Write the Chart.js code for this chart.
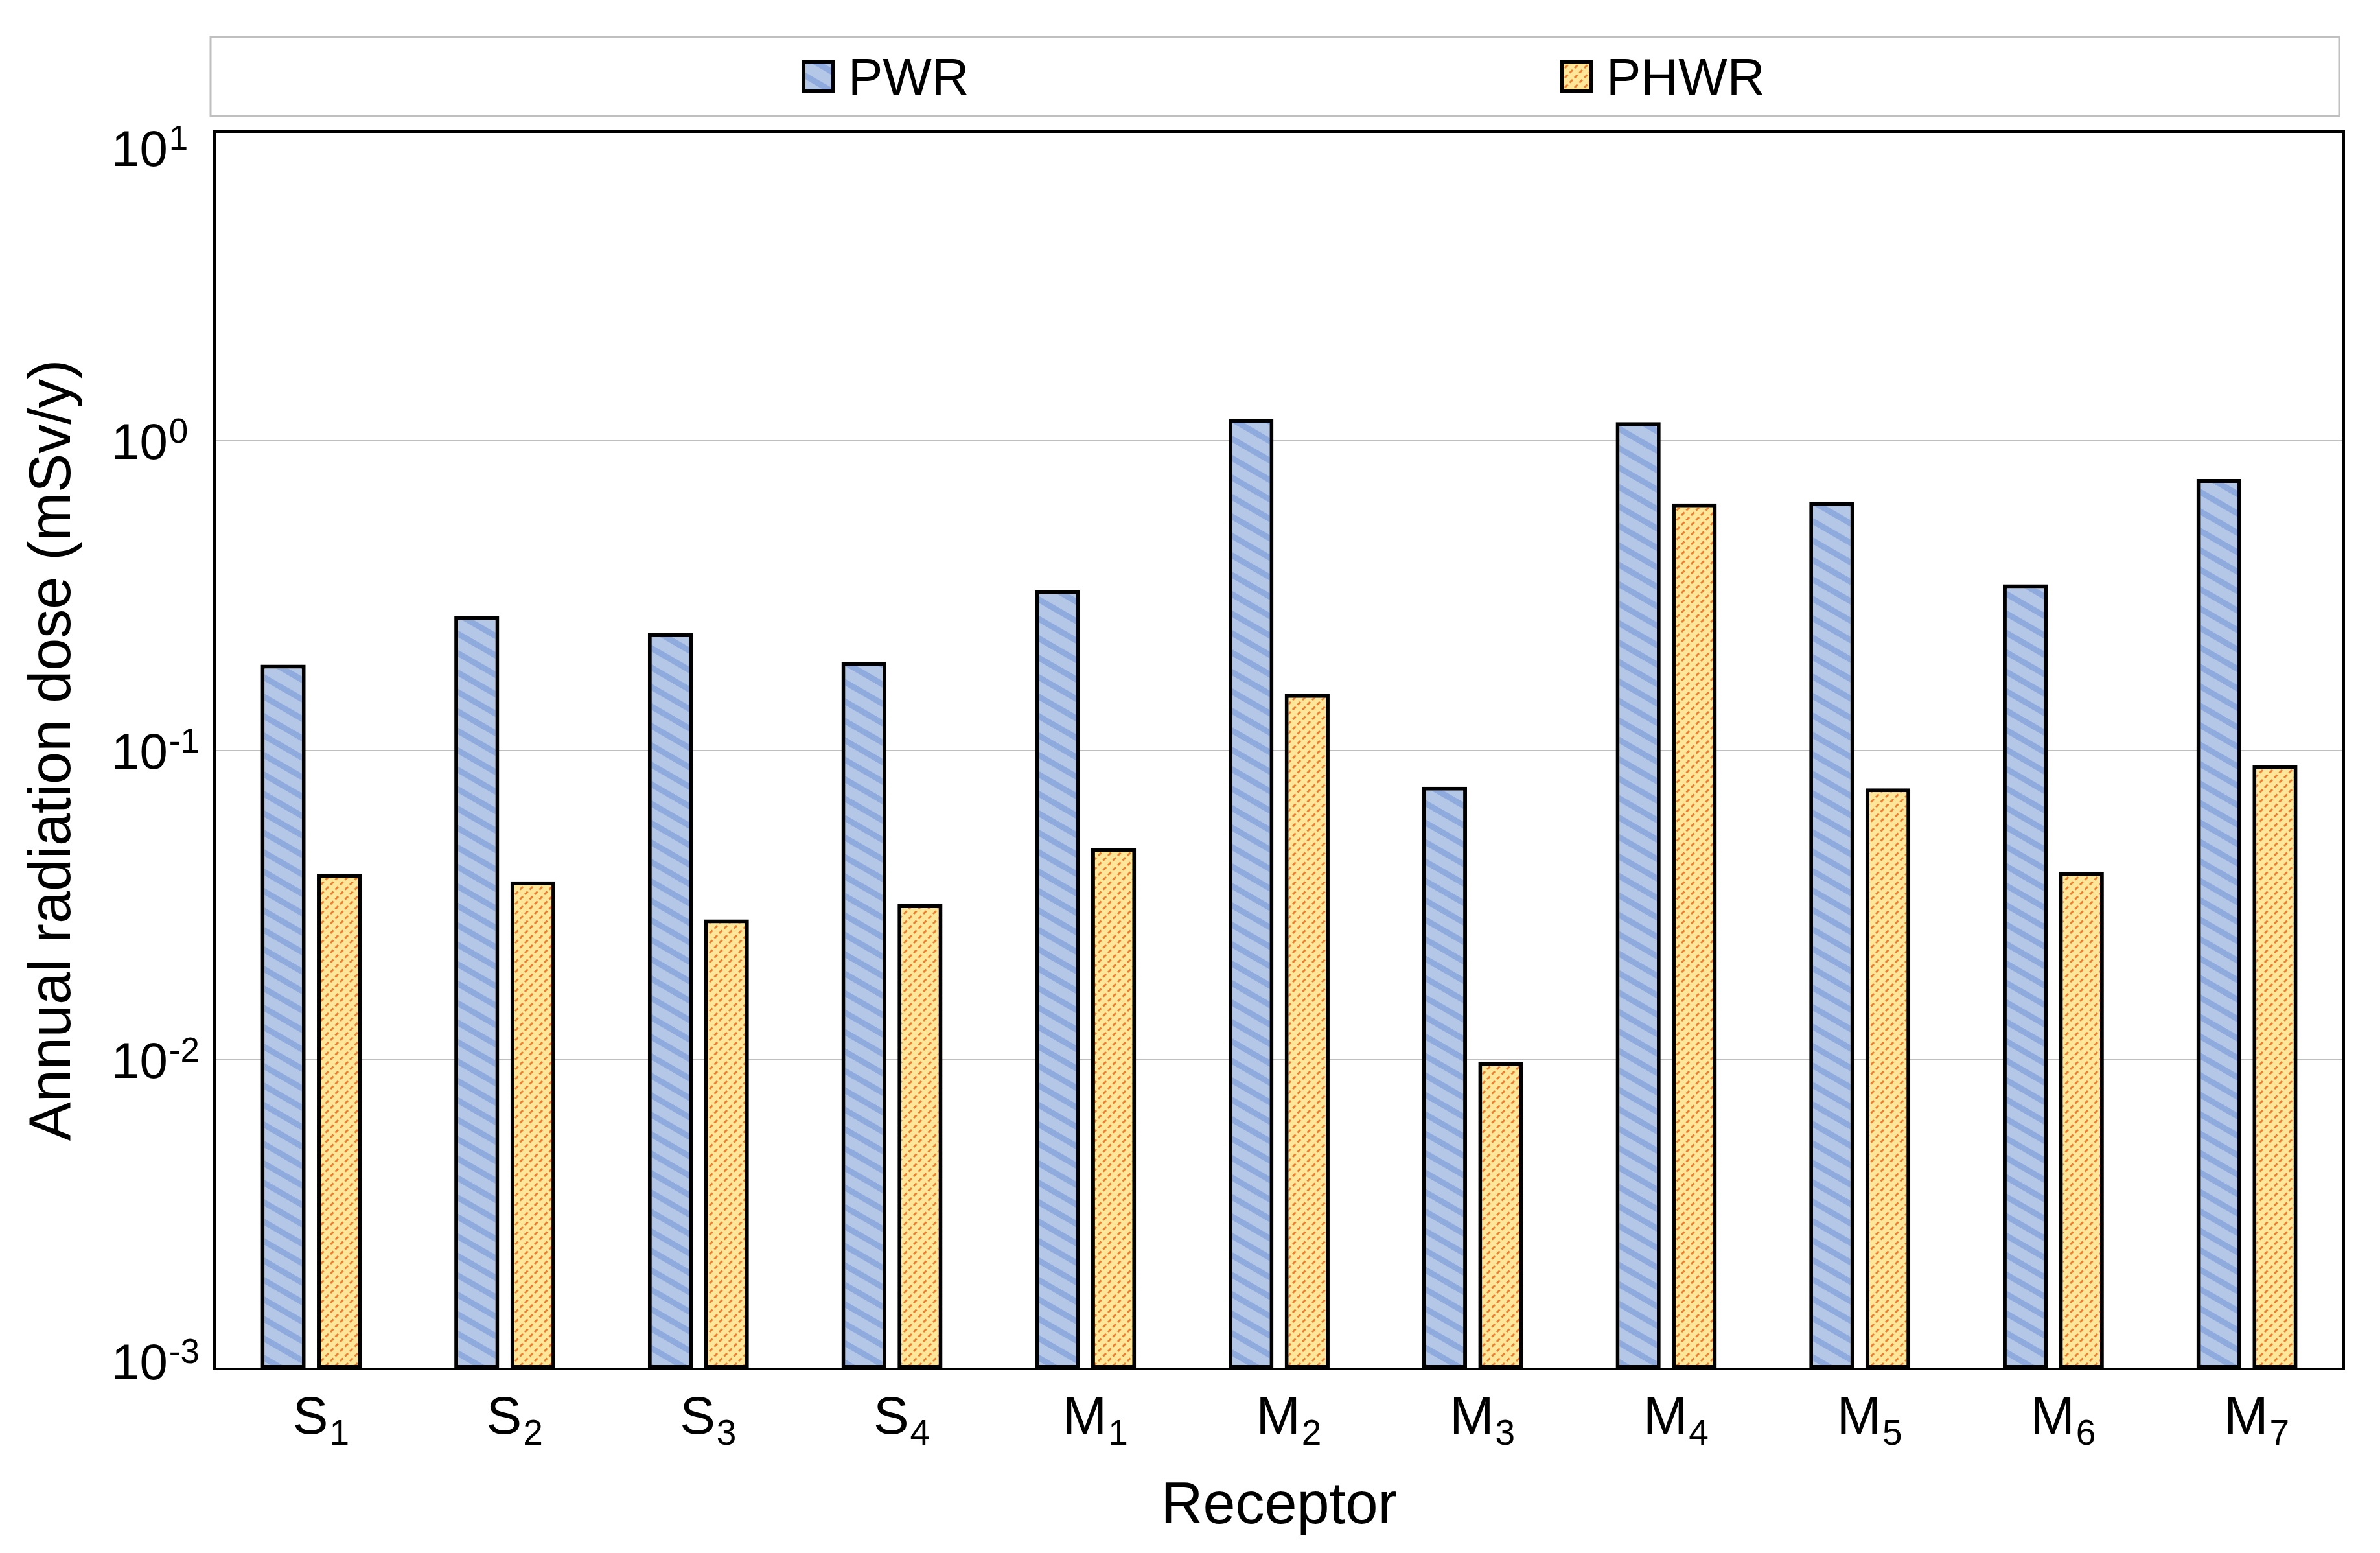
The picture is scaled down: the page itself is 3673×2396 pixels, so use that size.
<!DOCTYPE html>
<html lang="en">
<head>
  <meta charset="UTF-8" />
  <title>Annual radiation dose by receptor</title>
  <script src="https://cdn.jsdelivr.net/npm/chart.js"></script>
  <style>
    html, body { margin: 0; padding: 0; background: #fff; }
    #wrap { width: 3673px; height: 2396px; }
  </style>
</head>
<body>
  <div id="wrap"><canvas id="doseChart" width="3673" height="2396"></canvas></div>

  <script>
    // data (mSv/y, log axis)
    const receptors = ['S1', 'S2', 'S3', 'S4', 'M1', 'M2', 'M3', 'M4', 'M5', 'M6', 'M7'];
    const pwrDose = [0.189, 0.271, 0.239, 0.193, 0.329, 1.18, 0.0762, 1.15, 0.635, 0.344, 0.753];
    const phwrDose = [0.0399, 0.0377, 0.0284, 0.0318, 0.0484, 0.152, 0.0098, 0.628, 0.0753, 0.0404, 0.0893];
    const seriesNames = ['PWR', 'PHWR'];
    const tickExponents = [-3, -2, -1, 0, 1];

    const FONT = '"Liberation Sans", Arial, sans-serif';

    // blue wide downward diagonal
    function stripePattern() {
      const c = document.createElement('canvas');
      c.width = 52; c.height = 30;
      const g = c.getContext('2d');
      g.fillStyle = '#b4c7e7';
      g.fillRect(0, 0, 52, 30);
      g.strokeStyle = '#8faadc';
      g.lineWidth = 9;
      [-30, 0, 30].forEach(dy => {
        g.beginPath();
        g.moveTo(-52, -30 + dy);
        g.lineTo(104, 60 + dy);
        g.stroke();
      });
      return g.createPattern(c, 'repeat');
    }

    // orange dashed upward diagonal
    function dashPattern() {
      const c = document.createElement('canvas');
      c.width = 15; c.height = 15;
      const g = c.getContext('2d');
      g.fillStyle = '#ffe699';
      g.fillRect(0, 0, 15, 15);
      g.strokeStyle = '#ed7d31';
      g.lineWidth = 3;
      g.setLineDash([6.4, 4.2]);
      [-15, 0, 15].forEach(dx => {
        g.beginPath();
        g.moveTo(dx - 15, 30);
        g.lineTo(dx + 30, -15);
        g.stroke();
      });
      return g.createPattern(c, 'repeat');
    }

    const frameAndLabels = {
      id: 'frameAndLabels',
      afterDatasetsDraw(chart) {
        const { ctx, chartArea: a } = chart;
        ctx.save();
        ctx.strokeStyle = '#000';
        ctx.lineWidth = 4;
        ctx.strokeRect(a.left, a.top, a.right - a.left, a.bottom - a.top);
        ctx.restore();
      },
      afterDraw(chart) {
        const { ctx, chartArea: a } = chart;
        const ys = chart.scales.y, xs = chart.scales.x;
        ctx.save();
        ctx.fillStyle = '#000';
        ctx.textAlign = 'left';
        ctx.textBaseline = 'alphabetic';

        // y tick labels 10^n
        tickExponents.forEach(e => {
          let py = ys.getPixelForValue(Math.pow(10, e));
          py = Math.min(Math.max(py, a.top + 25), a.bottom - 12);
          const baseY = py + 28;
          ctx.font = '78px ' + FONT;
          ctx.fillText('10', 172, baseY);
          const w = ctx.measureText('10').width;
          ctx.font = '53px ' + FONT;
          ctx.fillText(String(e), 172 + w + 2, baseY - 25);
        });

        // x category labels with subscript
        receptors.forEach((lab, i) => {
          const cx = xs.getPixelForValue(i) + 14;
          const main = lab.charAt(0), sub = lab.slice(1);
          ctx.font = '82px ' + FONT;
          const mw = ctx.measureText(main).width;
          ctx.font = '55px ' + FONT;
          const sw = ctx.measureText(sub).width;
          const x0 = cx - (mw + sw) / 2;
          ctx.font = '82px ' + FONT;
          ctx.fillText(main, x0, a.bottom + 100);
          ctx.font = '55px ' + FONT;
          ctx.fillText(sub, x0 + mw + 2, a.bottom + 117);
        });

        // legend box
        ctx.strokeStyle = '#bfbfbf';
        ctx.lineWidth = 3;
        ctx.strokeRect(325, 57, 3610 - 325, 179 - 57);
        const itemX = [1237, 2407];
        chart.data.datasets.forEach((ds, i) => {
          const x = itemX[i], y = 118 - 26;
          ctx.fillStyle = ds.backgroundColor;
          ctx.fillRect(x, y, 52, 52);
          ctx.strokeStyle = '#000';
          ctx.lineWidth = 6;
          ctx.strokeRect(x + 3, y + 3, 46, 46);
          ctx.fillStyle = '#000';
          ctx.font = '80px ' + FONT;
          ctx.fillText(seriesNames[i], x + 52 + 20, 146);
        });
        ctx.restore();
      }
    };

    const ctx = document.getElementById('doseChart').getContext('2d');
    new Chart(ctx, {
      type: 'bar',
      data: {
        labels: receptors,
        datasets: [
          {
            label: seriesNames[0],
            data: pwrDose,
            backgroundColor: stripePattern(),
            borderColor: '#000',
            borderWidth: 6,
            borderSkipped: false
          },
          {
            label: seriesNames[1],
            data: phwrDose,
            backgroundColor: dashPattern(),
            borderColor: '#000',
            borderWidth: 6,
            borderSkipped: false
          }
        ]
      },
      options: {
        responsive: false,
        animation: false,
        devicePixelRatio: 1,
        datasets: { bar: { categoryPercentage: 0.58, barPercentage: 0.8 } },
        layout: { padding: { top: 203, right: 56, left: 0, bottom: 0 } },
        plugins: {
          legend: { display: false },
          tooltip: { enabled: false }
        },
        scales: {
          x: {
            grid: { display: false },
            border: { display: false },
            ticks: { display: false },
            title: {
              display: true,
              text: 'Receptor',
              color: '#000',
              font: { family: FONT, size: 90 },
              padding: { top: 0, bottom: 17 }
            },
            afterFit: s => { s.height = 284; }
          },
          y: {
            type: 'logarithmic',
            min: 0.001,
            max: 10,
            grid: { color: '#bfbfbf', lineWidth: 2, drawTicks: false },
            border: { display: false },
            ticks: { display: false },
            afterBuildTicks: s => {
              s.ticks = tickExponents.map(e => ({ value: Math.pow(10, e) }));
            },
            title: {
              display: true,
              text: 'Annual radiation dose (mSv/y)',
              color: '#000',
              font: { family: FONT, size: 90 },
              padding: { top: 29, bottom: 0 }
            },
            afterFit: s => { s.width = 331; }
          }
        }
      },
      plugins: [frameAndLabels]
    });
  </script>
</body>
</html>
